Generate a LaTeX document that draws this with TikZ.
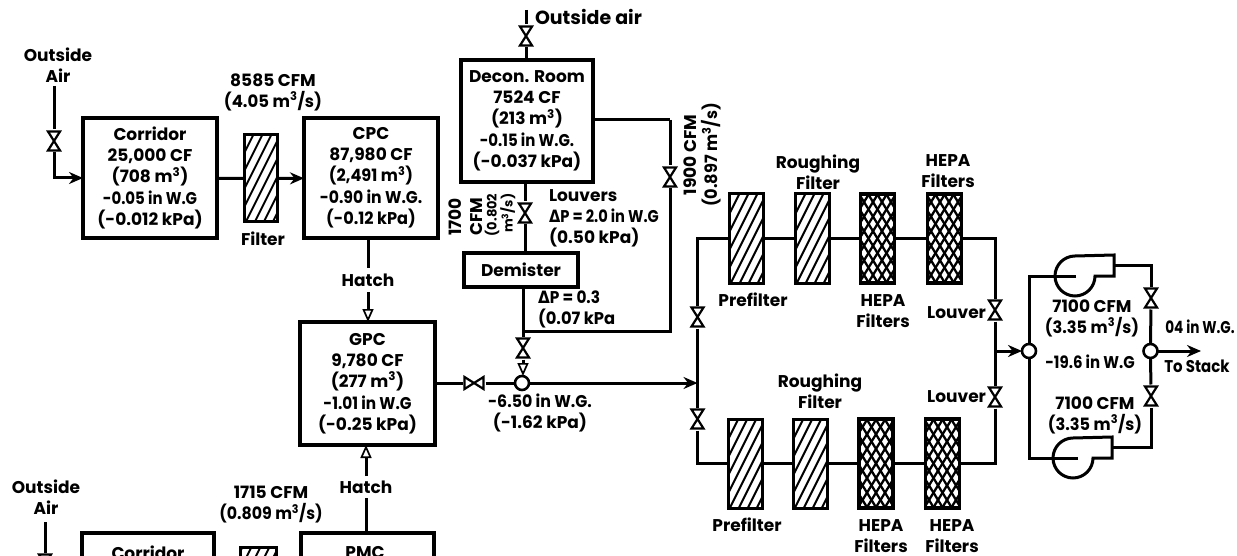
\documentclass[tikz,border=0pt]{standalone}
\usepackage{fontspec}
\setmainfont{Poppins}
\newfontfamily\deltafont{DejaVu Sans}
\usetikzlibrary{arrows.meta,calc}
\newcommand{\up}[1]{\textsuperscript{#1}}
\newcommand{\dlt}{{\deltafont\bfseries Δ}}
\newcommand{\sq}[2]{\scalebox{#1}[1]{#2}}
\tikzset{
  wire/.style={line width=3pt},
  solidarr/.style={wire,-{Stealth[length=14pt,width=12pt]}},
  openarr/.style={wire,-{Triangle[open,length=13pt,width=11pt,fill=white,line width=1.7pt]}},
  txt/.style={font=\bfseries\fontsize{17}{21}\selectfont,align=center,inner sep=0pt,outer sep=0pt,text=black},
  boxed/.style={txt,draw,line width=3.2pt,fill=white},
  valvev/.style={inner sep=0pt,outer sep=0pt,minimum width=16pt,minimum height=23pt,fill=white,
    path picture={\draw[line width=2.2pt,line join=miter] (path picture bounding box.center)
      ++(-6,-9.5) -- ++(12,0) -- ++(-12,19) -- ++(12,0) -- cycle;}},
  valveh/.style={inner sep=0pt,outer sep=0pt,minimum width=23pt,minimum height=16pt,fill=white,
    path picture={\draw[line width=2.2pt,line join=miter] (path picture bounding box.center)
      ++(-9.5,-6) -- ++(0,12) -- ++(19,-12) -- ++(0,12) -- cycle;}},
  junction/.style={circle,draw,line width=2.6pt,fill=white,inner sep=0pt,outer sep=0pt,minimum size=14pt},
  hatched/.style={draw,line width=3pt,fill=white,inner sep=0pt,outer sep=0pt,minimum width=34pt,minimum height=89pt,
    path picture={\foreach \d in {-110,-101,...,110}
      \draw[line width=2pt] (path picture bounding box.center) ++(\d-30,60) -- ++(60,-120);}},
  crossed/.style={draw,line width=3.6pt,fill=white,inner sep=0pt,outer sep=0pt,minimum width=34pt,minimum height=89pt,
    path picture={\foreach \d in {-126,-117,...,126}{
      \draw[line width=2.3pt] (path picture bounding box.center) ++(\d-37,60) -- ++(74,-120);
      \draw[line width=2.3pt] (path picture bounding box.center) ++(\d+37,60) -- ++(-74,-120);}}},
  fanshape/.pic={\draw[wire,fill=white] (39,-21) -- (0,-20) .. controls (-11,-20) and (-20,-11) .. (-20,0)
      .. controls (-20,11) and (-11,20) .. (0,20) .. controls (11,20) and (20,11) .. (20,0) -- (39,0) -- cycle;},
}
\begin{document}
\begin{tikzpicture}[x=1pt,y=-1pt]
\useasboundingbox (0,0) rectangle (1237,556);
\clip (0,0) rectangle (1237,556);
\fill[white] (0,0) rectangle (1237,556);

% rooms
\node[boxed,minimum width=134pt,minimum height=120pt] (corr) at (150,178) {Corridor\\25,000 CF\\(708 m\up{3})\\[1pt]\sq{0.88}{-0.05 in W.G}\\(-0.012 kPa)};
\node[boxed,minimum width=134pt,minimum height=120pt] (cpc) at (371,178) {CPC\\87,980 CF\\\sq{0.95}{(2,491 m\up{3})}\\[1pt]\sq{0.92}{-0.90 in W.G.}\\\sq{0.95}{(-0.12 kPa)}};
\node[boxed,minimum width=135pt,minimum height=123pt] (gpc) at (367.5,383.5) {GPC\\9,780 CF\\(277 m\up{3})\\[1pt]\sq{0.9}{-1.01 in W.G}\\(-0.25 kPa)};
\node[boxed,minimum width=132pt,minimum height=122pt] (decon) at (527,121) {Decon. Room\\7524 CF\\(213 m\up{3})\\[1pt]\sq{0.88}{-0.15 in W.G.}\\(-0.037 kPa)};
\node[boxed,minimum width=114pt,minimum height=34pt] (demist) at (521,270) {Demister};
\node[boxed,minimum width=132pt,minimum height=100pt] (corr2) at (148,583) {};
\node[boxed,minimum width=133pt,minimum height=100pt] (pmc) at (367.5,583) {};
\node[txt] (corr2t) at (148,553) {Corridor};
\node[txt] (pmct) at (365,553) {PMC};

% filters
\node[hatched,minimum width=33pt,minimum height=87pt] (filt) at (260.5,178.5) {};
\node[hatched,minimum width=36pt] (filt2) at (258,592) {};
\node[hatched] (a1) at (746,238.5) {};
\node[hatched] (a2) at (812,238.5) {};
\node[crossed] (a3) at (877.5,238.5) {};
\node[crossed] (a4) at (944.5,238.5) {};
\node[hatched] (b1) at (745,463.5) {};
\node[hatched] (b2) at (810,463.5) {};
\node[crossed] (b3) at (876,463.5) {};
\node[crossed] (b4) at (942.5,463.5) {};

% valves and junctions
\node[valvev] (v1) at (54,141) {};
\node[valvev] (v2) at (45,564) {};
\node[valvev] (v3) at (526,36) {};
\node[valvev] (v4) at (525,213) {};
\node[valvev] (v5) at (670,177) {};
\node[valvev] (v6) at (523,348) {};
\node[valveh] (v7) at (474,383) {};
\node[valvev] (v8) at (697.5,317) {};
\node[valvev] (v9) at (697.5,419) {};
\node[valvev] (v10) at (995,310) {};
\node[valvev] (v11) at (995,397) {};
\node[valvev] (v12) at (1151,298) {};
\node[valvev] (v13) at (1151,396) {};
\node[junction] (jm) at (522,383) {};
\node[junction] (jf) at (1029,351) {};
\node[junction] (js) at (1150.5,351) {};

% fans
\pic at (1075,276) {fanshape};
\pic at (1073,458) {fanshape};
\coordinate (f1hub) at (1076,276);
\coordinate (f2hub) at (1078,458);
\coordinate (f1out) at (1114,265);
\coordinate (f2out) at (1112,447);

% free ends and corners
\coordinate (air1) at (54,86);
\coordinate (air2) at (45,522);
\coordinate (air3) at (526,10);
\coordinate (decR) at (670,120);
\coordinate (byp) at (670,331);
\coordinate (bypj) at (523,331);
\coordinate (demj) at (523,287);
\coordinate (decj) at (525,182);
\coordinate (demt) at (525,253);
\coordinate (tl) at (697.5,238.5);
\coordinate (jl) at (697.5,383);
\coordinate (bl) at (697.5,463.5);
\coordinate (tr) at (995,238.5);
\coordinate (br) at (995,463.5);
\coordinate (jr) at (995,351);
\coordinate (f1c) at (1029,276);
\coordinate (f2c) at (1029,458);
\coordinate (f1r) at (1151,265);
\coordinate (f2r) at (1151,447);
\coordinate (stack) at (1201,351);
\coordinate (jmn) at (523,376);

% labels
\node[txt] (l1) at (58,65) {Outside\\Air};
\node[txt] (l2) at (46,497) {Outside\\Air};
\node[txt,anchor=west,font=\bfseries\fontsize{19}{21}\selectfont] (l3) at (535,17) {Outside air};
\node[txt] (l4) at (273,92) {8585 CFM\\\sq{0.97}{(4.05 m\up{3}/s)}};
\node[txt] (l5) at (263,239) {Filter};
\node[txt,minimum height=24pt] (h1) at (368,280) {Hatch};
\node[txt,minimum height=22pt] (h2) at (366,487) {Hatch};
\node[txt] (l6) at (271,505) {1715 CFM\\\sq{0.93}{(0.809 m\up{3}/s)}};
\node[txt,align=left,anchor=west] (l7) at (549,218) {Louvers\\\sq{0.86}{\dlt P = 2.0 in W.G}\\(0.50 kPa)};
\node[txt,align=left,anchor=west] (l8) at (538,309) {\sq{0.9}{\dlt P = 0.3}\\\sq{0.96}{(0.07 kPa}};
\node[txt] (l9) at (540,413) {\sq{0.93}{-6.50 in W.G.}\\(-1.62 kPa)};
\node[txt,rotate=90] (l10) at (466,217) {1700\\CFM};
\node[txt,rotate=90,align=right,font=\bfseries\fontsize{13}{14}\selectfont] (l11) at (500,215) {(0.802\\m\up{3}/s)};
\node[txt,rotate=90] (l12) at (702,155) {1900 CFM\\\sq{0.95}{(0.897 m\up{3}/s)}};
\node[txt] (l13) at (818,172) {Roughing\\Filter};
\node[txt] (l14) at (948,171) {HEPA\\Filters};
\node[txt] (l15) at (753,300) {Prefilter};
\node[txt] (l16) at (883,311) {HEPA\\Filters};
\node[txt,anchor=east] (l17) at (986,313) {Louver};
\node[txt,anchor=east] (l18) at (986,397) {Louver};
\node[txt] (l19) at (820,391) {Roughing\\Filter};
\node[txt] (l20) at (747,525) {Prefilter};
\node[txt] (l21) at (881,536) {HEPA\\Filters};
\node[txt] (l22) at (952,536) {HEPA\\Filters};
\node[txt] (l23) at (1092,318) {7100 CFM\\\sq{0.95}{(3.35 m\up{3}/s)}};
\node[txt] (l24) at (1090,362) {\sq{0.88}{-19.6 in W.G}};
\node[txt] (l25) at (1095,415) {7100 CFM\\\sq{0.95}{(3.35 m\up{3}/s)}};
\node[txt] (l26) at (1200,327) {\sq{0.8}{04 in W.G.}};
\node[txt] (l27) at (1197,366) {\sq{0.88}{To Stack}};

% connectors
\draw[wire] (air1) -- (v1);
\draw[solidarr] (v1) |- (corr.west);
\draw[wire] (air2) -- (v2);
\draw[wire] (air3) -- (v3);
\draw[wire] (v3) -- (v3 |- decon.north);
\draw[wire] (corr) -- (filt);
\draw[solidarr] (filt) -- (cpc);
\draw[wire] (h1 |- cpc.south) -- (h1);
\draw[openarr] (h1) -- (h1 |- gpc.north);
\draw[wire] (h2) -- (h2 |- pmc.north);
\draw[openarr] (h2) -- (h2 |- gpc.south);
\draw[wire] (decj) -- (v4);
\draw[wire] (v4) -- (demt);
\draw[wire] (decR) -- (decon.east |- decR);
\draw[wire] (decR) -- (v5);
\draw[wire,line join=miter] (v5) -- (byp) -- (bypj);
\draw[wire] (demj) -- (v6);
\draw[openarr] (v6) -- (jmn);
\draw[wire] (gpc.east |- v7) -- (v7);
\draw[wire] (v7) -- (jm);
\draw[solidarr] (jm) -- (jl);
\draw[wire,line join=miter] (a1) -- (tl) -- (v8);
\draw[wire] (v8) -- (v9);
\draw[wire,line join=miter] (v9) -- (bl) -- (b1);
\draw[wire] (a1) -- (a2);
\draw[wire] (a2) -- (a3);
\draw[wire] (a3) -- (a4);
\draw[wire] (b1) -- (b2);
\draw[wire] (b2) -- (b3);
\draw[wire] (b3) -- (b4);
\draw[wire,line join=miter] (a4) -- (tr) -- (v10);
\draw[wire] (v10) -- (v11);
\draw[wire,line join=miter] (v11) -- (br) -- (b4);
\draw[solidarr] (jr) -- (jf);
\draw[wire,line join=miter] (f1hub) -- (f1c) -- (jf);
\draw[wire,line join=miter] (f2hub) -- (f2c) -- (jf);
\draw[wire,line join=miter] (f1out) -- (f1r) -- (v12);
\draw[wire] (v12) -- (js);
\draw[wire,line join=miter] (f2out) -- (f2r) -- (v13);
\draw[wire] (v13) -- (js);
\draw[solidarr] (js) -- (stack);
\end{tikzpicture}
\end{document}
